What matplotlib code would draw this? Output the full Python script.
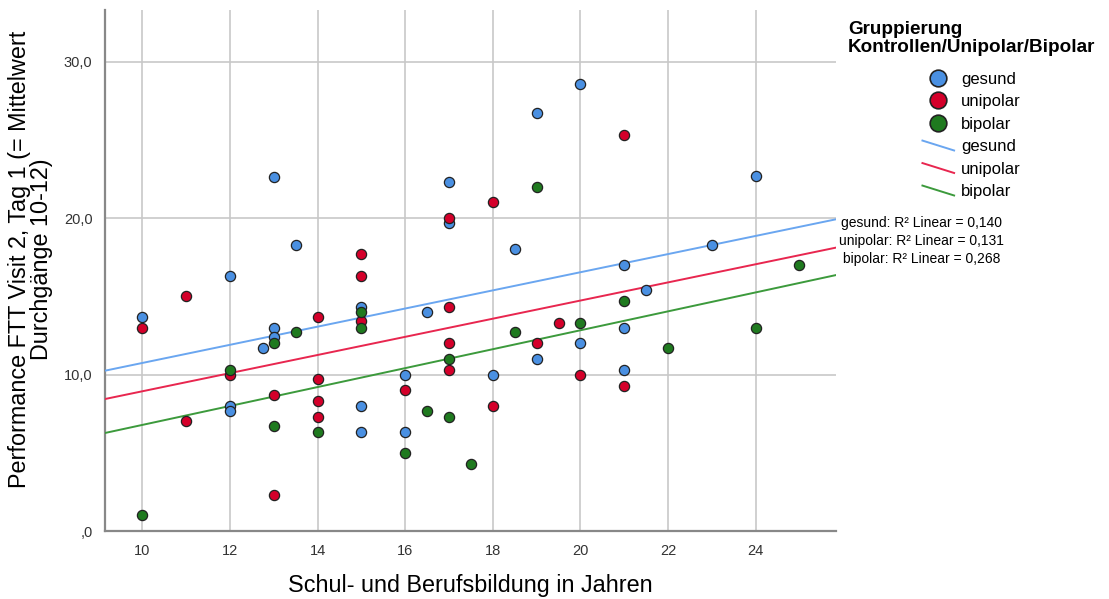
import numpy as np
import matplotlib.pyplot as plt
from matplotlib.lines import Line2D
from matplotlib.legend_handler import HandlerLine2D
from matplotlib.ticker import FuncFormatter

plt.rcParams['font.family'] = ['Liberation Sans', 'DejaVu Sans']

# Bildungsjahre / FTT-Leistung je Gruppe
gesund_x = [10, 12, 12, 12, 12.75, 13, 13, 13, 13.5, 15, 15, 15, 16, 16, 16.5,
            17, 17, 18, 18.5, 19, 19, 20, 20, 21, 21, 21, 21.5, 23, 24]
gesund_y = [13.7, 16.3, 8.0, 7.7, 11.7, 22.6, 13.0, 12.4, 18.3, 14.3, 8.0, 6.3, 10.0, 6.3, 14.0,
            22.3, 19.7, 10.0, 18.0, 26.7, 11.0, 28.6, 12.0, 17.0, 13.0, 10.3, 15.4, 18.3, 22.7]

unipolar_x = [10, 11, 11, 12, 13, 13, 14, 14, 14, 14, 15, 15, 15, 16,
              17, 17, 17, 17, 18, 18, 19, 19.5, 20, 21, 21]
unipolar_y = [13.0, 15.0, 7.0, 10.0, 8.7, 2.3, 13.7, 9.7, 8.3, 7.3, 17.7, 16.3, 13.4, 9.0,
              20.0, 14.3, 12.0, 10.3, 21.0, 8.0, 12.0, 13.3, 10.0, 25.3, 9.3]

bipolar_x = [10, 12, 13, 13, 13.5, 14, 15, 15, 16, 16.5, 17, 17, 17.5, 18.5,
             19, 20, 21, 22, 24, 25]
bipolar_y = [1.0, 10.3, 12.0, 6.7, 12.7, 6.3, 14.0, 13.0, 5.0, 7.7, 11.0, 7.3, 4.3, 12.7,
             22.0, 13.3, 14.7, 11.7, 13.0, 17.0]

# lineare Anpassung je Gruppe (Steigung, Achsenabschnitt)
fit_slope = [0.58, 0.58, 0.605]
fit_icept = [4.94, 3.13, 0.73]

groups = ['gesund', 'unipolar', 'bipolar']
r2_labels = ['0,140', '0,131', '0,268']
xticks = [10, 12, 14, 16, 18, 20, 22, 24]
yticks = [0, 10, 20, 30]

dot_colors = ['#4a90e2', '#d4002a', '#1f7a1f']
line_colors = ['#6aa6f0', '#e8264f', '#3c9a3c']


class SlantedLine(HandlerLine2D):
    # legend key drawn as a short falling diagonal
    def create_artists(self, legend, orig_handle, xdescent, ydescent,
                       width, height, fontsize, trans):
        ln = Line2D([-xdescent, -xdescent + width],
                    [height * 0.9, -ydescent + height * 0.05])
        self.update_prop(ln, orig_handle, legend)
        ln.set_transform(trans)
        return [ln]


def fmt_y(v, pos):
    s = ('%.1f' % v).replace('.', ',')
    return s[1:] if s.startswith('0') else s


fig = plt.figure(figsize=(11.09, 5.99), dpi=100)
ax = fig.add_axes([0.0947, 0.1135, 0.659, 0.8698])

data = [(gesund_x, gesund_y), (unipolar_x, unipolar_y), (bipolar_x, bipolar_y)]
xlim = (9.15, 25.83)
ax.set_xlim(*xlim)
ax.set_ylim(0, 33.3)

for (xs, ys), c in zip(data, dot_colors):
    ax.scatter(xs, ys, s=54, color=c, edgecolors='#222222', linewidths=0.9, zorder=4)

xx = np.array(xlim)
for k, d, c in zip(fit_slope, fit_icept, line_colors):
    ax.plot(xx, k * xx + d, color=c, lw=1.4, zorder=3)

ax.set_xticks(xticks)
ax.set_yticks(yticks)
ax.grid(True, color='#c8c8c8', lw=1.2, zorder=0)
ax.set_axisbelow(True)
ax.tick_params(length=0, labelsize=10.5, labelcolor='#333333', pad=9)
ax.yaxis.set_major_formatter(FuncFormatter(fmt_y))

for side in ['top', 'right']:
    ax.spines[side].set_visible(False)
for side in ['left', 'bottom']:
    ax.spines[side].set_color('#888888')
    ax.spines[side].set_linewidth(1.6)

ax.set_xlabel('Schul- und Berufsbildung in Jahren', fontsize=16.8, labelpad=12)
ax.set_ylabel('Performance FTT Visit 2, Tag 1 (= Mittelwert\nDurchgänge 10-12)',
              fontsize=16.8, linespacing=0.95)
ax.yaxis.set_label_coords(-0.071, 0.522)

handles = [Line2D([], [], ls='', marker='o', markersize=12, markerfacecolor=c,
                  markeredgecolor='#222222', markeredgewidth=1.2) for c in dot_colors]
handles += [Line2D([], [], color=c, lw=1.4) for c in line_colors]
labels = groups + groups
leg = fig.legend(handles, labels, loc='upper center', bbox_to_anchor=(0.876, 0.99),
                 frameon=False, fontsize=12, handlelength=1.9, handletextpad=0.4,
                 labelspacing=0.45, alignment='center',
                 title='Gruppierung\nKontrollen/Unipolar/Bipolar',
                 title_fontproperties={'weight': 'bold', 'size': 13.6},
                 handler_map={h: SlantedLine() for h in handles[3:]})
leg.get_title().set_linespacing(1.1)
leg._legend_box.sep = 11

for i, (g, r) in enumerate(zip(groups, r2_labels)):
    fig.text(0.831, 0.628 - i * 0.0305, g + ': R² Linear = ' + r,
             ha='center', va='center', fontsize=10)

fig.savefig('out.png', dpi=100)
